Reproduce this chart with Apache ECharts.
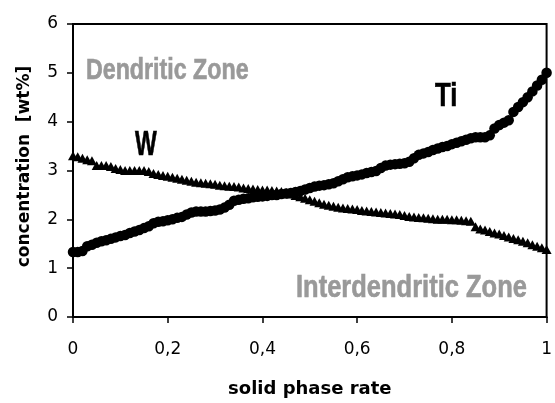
<!DOCTYPE html>
<html>
<head>
<meta charset="utf-8">
<script src="https://cdn.jsdelivr.net/npm/echarts@6/dist/echarts.min.js"></script>
<style>html,body{margin:0;padding:0;background:#fff}#c{width:555px;height:403px}</style>
</head>
<body>
<div id="c"></div>
<script>
// solid phase rate (x positions of samples)
var solidRate = [0.00,0.01,0.02,0.03,0.04,0.05,0.06,0.07,0.08,0.09,
  0.10,0.11,0.12,0.13,0.14,0.15,0.16,0.17,0.18,0.19,
  0.20,0.21,0.22,0.23,0.24,0.25,0.26,0.27,0.28,0.29,
  0.30,0.31,0.32,0.33,0.34,0.35,0.36,0.37,0.38,0.39,
  0.40,0.41,0.42,0.43,0.44,0.45,0.46,0.47,0.48,0.49,
  0.50,0.51,0.52,0.53,0.54,0.55,0.56,0.57,0.58,0.59,
  0.60,0.61,0.62,0.63,0.64,0.65,0.66,0.67,0.68,0.69,
  0.70,0.71,0.72,0.73,0.74,0.75,0.76,0.77,0.78,0.79,
  0.80,0.81,0.82,0.83,0.84,0.85,0.86,0.87,0.88,0.89,
  0.90,0.91,0.92,0.93,0.94,0.95,0.96,0.97,0.98,0.99,1.00];
// Ti concentration [wt%]
var tiValues = [1.33,1.33,1.35,1.45,1.48,1.52,1.55,1.57,1.60,1.63,
  1.66,1.68,1.72,1.75,1.78,1.82,1.86,1.92,1.95,1.96,
  1.98,2.00,2.03,2.05,2.10,2.14,2.16,2.16,2.16,2.17,
  2.18,2.20,2.24,2.30,2.38,2.40,2.42,2.43,2.45,2.46,
  2.47,2.48,2.50,2.50,2.52,2.53,2.54,2.56,2.58,2.61,
  2.64,2.67,2.69,2.70,2.72,2.74,2.78,2.82,2.86,2.88,
  2.90,2.92,2.95,2.97,2.99,3.05,3.10,3.12,3.13,3.14,
  3.15,3.18,3.25,3.32,3.35,3.38,3.42,3.45,3.48,3.50,
  3.54,3.57,3.60,3.63,3.66,3.68,3.68,3.68,3.72,3.86,
  3.93,3.98,4.03,4.20,4.30,4.40,4.50,4.62,4.74,4.86,5.00];
// W concentration [wt%]
var wValues = [3.30,3.28,3.25,3.22,3.20,3.10,3.10,3.10,3.08,3.04,
  3.02,3.00,3.00,3.00,3.00,3.00,2.98,2.94,2.92,2.90,
  2.88,2.86,2.84,2.82,2.80,2.78,2.76,2.75,2.74,2.73,
  2.72,2.70,2.69,2.68,2.67,2.66,2.64,2.63,2.62,2.61,
  2.60,2.60,2.59,2.58,2.57,2.55,2.52,2.49,2.46,2.43,
  2.40,2.37,2.34,2.31,2.29,2.27,2.25,2.23,2.22,2.21,
  2.20,2.18,2.17,2.16,2.15,2.14,2.13,2.12,2.11,2.10,
  2.08,2.06,2.05,2.04,2.03,2.02,2.01,2.00,2.00,2.00,
  1.99,1.99,1.98,1.97,1.96,1.85,1.80,1.78,1.75,1.72,
  1.70,1.67,1.64,1.61,1.58,1.55,1.52,1.48,1.45,1.42,1.38];

function pairs(xs, ys){ return xs.map(function(x,i){ return [x, ys[i]]; }); }

var chart = echarts.init(document.getElementById('c'));
var boldFont = '"Liberation Sans", Arial, sans-serif';
function label(txt, x, y, size, sx, sy, color){
  return {type: 'text', x: x, y: y, scaleX: sx, scaleY: sy,
    style: {text: txt, fontFamily: boldFont, fontWeight: 'bold', fontSize: size, fill: color,
      verticalAlign: 'middle', align: 'left', stroke: color, lineWidth: 0.6}};
}
chart.setOption({
  animation: false,
  grid: {left: 73, right: 4, top: 24, bottom: 84, show: true, borderColor: '#000', borderWidth: 2, backgroundColor: 'transparent'},
  xAxis: {
    type: 'value', min: 0, max: 1, interval: 0.2,
    name: 'solid phase rate', nameLocation: 'middle', nameGap: 63,
    nameTextStyle: {fontFamily: 'DejaVu Sans', fontWeight: 'bold', fontSize: 18, color: '#000'},
    axisLine: {show: true, lineStyle: {color: '#000', width: 2}},
    axisTick: {show: true, inside: false, length: 6, lineStyle: {color: '#000', width: 1.5}},
    axisLabel: {margin: 24, fontFamily: 'DejaVu Sans', fontSize: 17, color: '#000',
      formatter: function(v){ return String(Math.round(v*10)/10).replace('.', ','); }},
    splitLine: {show: false}
  },
  yAxis: {
    type: 'value', min: 0, max: 6, interval: 1,
    name: 'concentration  [wt%]', nameLocation: 'middle', nameGap: 40,
    nameTextStyle: {fontFamily: 'DejaVu Sans', fontWeight: 'bold', fontSize: 17, color: '#000', padding: [0, 0, 0, 8]},
    axisLine: {show: true, lineStyle: {color: '#000', width: 2}},
    axisTick: {show: true, inside: false, length: 6, lineStyle: {color: '#000', width: 1.5}},
    axisLabel: {margin: 15, fontFamily: 'DejaVu Sans', fontSize: 17, color: '#000'},
    splitLine: {show: false}
  },
  series: [
    {name: 'W', type: 'scatter', symbol: 'triangle', symbolSize: [10, 9],
     itemStyle: {color: '#000', opacity: 1}, data: pairs(solidRate, wValues), clip: false},
    {name: 'Ti', type: 'scatter', symbol: 'circle', symbolSize: 10.5,
     itemStyle: {color: '#000', opacity: 1}, data: pairs(solidRate, tiValues), clip: false}
  ],
  graphic: [
    label('Dendritic Zone', 86, 71, 27, 0.86, 1.08, '#999'),
    label('Interdendritic Zone', 296, 288, 30, 0.85, 1.05, '#999'),
    label('W', 135, 145, 32, 0.72, 1.1, '#000'),
    label('Ti', 435, 97, 31, 0.83, 1.05, '#000')
  ]
});
</script>
</body>
</html>
